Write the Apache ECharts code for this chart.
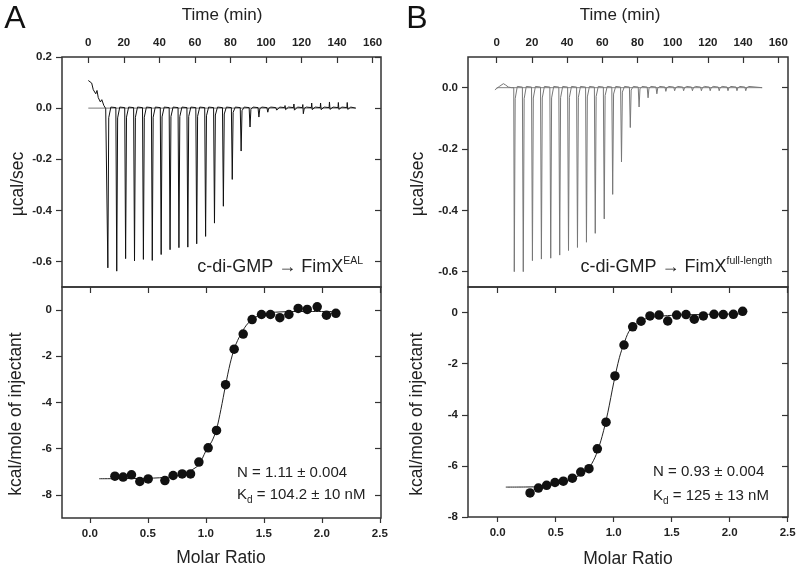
<!DOCTYPE html>
<html><head><meta charset="utf-8">
<script src="https://cdn.jsdelivr.net/npm/echarts@6/dist/echarts.min.js"></script>
<style>html,body{margin:0;padding:0;background:#fff}#c{width:800px;height:573px}</style>
</head><body><div id="c"></div>
<script>
// ---------- tick labels ----------
const timeTicks = [0, 20, 40, 60, 80, 100, 120, 140, 160];
const ratioTicks = [0, 0.5, 1.0, 1.5, 2.0, 2.5];
const powerTicksA = [-0.6, -0.4, -0.2, 0.0, 0.2];
const powerTicksB = [-0.6, -0.4, -0.2, 0.0];
const heatTicksA = [-8, -6, -4, -2, 0];
const heatTicksB = [-8, -6, -4, -2, 0];

// ---------- panel A raw thermogram ----------
const startA = [[0, 0.108], [1.9, 0.098], [2.8, 0.072], [4.2, 0.056], [4.9, 0.069], [5.6, 0.041], [6.8, 0.024], [7.6, 0.033], [8.7, 0.011], [9.8, -0.002]];
const injTimeA = [10.5, 15.5, 20.5, 25.5, 30.5, 35.5, 40.5, 45.5, 50.5, 55.5, 60.5, 65.5, 70.5, 75.5, 80.5, 85.5, 90.5, 95.5, 100.5, 105.5, 110.5, 115.5, 120.5, 125.5, 130.5, 135.5, 140.5, 145.5];
const injDownA = [-0.625, -0.638, -0.589, -0.598, -0.592, -0.596, -0.573, -0.554, -0.546, -0.544, -0.531, -0.502, -0.450, -0.384, -0.279, -0.168, -0.074, -0.035, -0.016, -0.008, -0.006, -0.008, -0.022, -0.006, -0.006, -0.005, -0.005, -0.005];
const injUpA = [0, 0, 0, 0, 0, 0, 0, 0, 0, 0, 0, 0, 0, 0, 0, 0, 0, 0, 0, 0.008, 0.010, 0.016, 0.014, 0.020, 0.020, 0.024, 0.022, 0.022];
const endA = 150.5;

// ---------- panel B raw thermogram ----------
const startB = [[-1.0, -0.007], [1.5, 0.004], [3.8, 0.013], [5.0, 0.009], [6.6, 0.002], [8.5, 0.0]];
const injTimeB = [9.5, 14.6, 19.8, 24.9, 30.2, 35.3, 40.3, 45.4, 50.5, 55.5, 60.6, 65.4, 70.4, 75.4, 80.4, 85.5, 90.5, 95.6, 100.6, 105.7, 110.7, 115.8, 120.8, 125.9, 130.9, 136.0, 141.0];
const injDownB = [-0.600, -0.600, -0.564, -0.559, -0.556, -0.546, -0.531, -0.521, -0.504, -0.475, -0.428, -0.348, -0.242, -0.130, -0.063, -0.033, -0.020, -0.012, -0.010, -0.010, -0.010, -0.010, -0.010, -0.010, -0.010, -0.010, -0.010];
const injUpB = [0, 0, 0, 0, 0, 0, 0, 0, 0, 0, 0, 0, 0, 0, 0, 0, 0, 0.008, 0.008, 0.008, 0.008, 0.008, 0.008, 0.008, 0.008, 0.008, 0.008];
const endB = 150.8;

// ---------- integrated heats ----------
const ratioA = [0.216, 0.287, 0.359, 0.431, 0.503, 0.647, 0.718, 0.796, 0.868, 0.940, 1.020, 1.092, 1.170, 1.244, 1.322, 1.399, 1.480, 1.557, 1.638, 1.716, 1.796, 1.874, 1.960, 2.040, 2.121];
const heatA = [-7.19, -7.23, -7.13, -7.42, -7.31, -7.38, -7.16, -7.09, -7.09, -6.58, -5.96, -5.21, -3.23, -1.69, -1.04, -0.41, -0.19, -0.19, -0.33, -0.19, 0.07, 0.03, 0.14, -0.22, -0.14];
const fitRatioA = [0.08, 0.5, 0.7, 0.8, 0.87, 0.94, 0.97, 1.0, 1.05, 1.09, 1.13, 1.17, 1.21, 1.25, 1.3, 1.35, 1.4, 1.45, 1.5, 1.6, 1.8, 2.12];
const fitHeatA = [-7.30, -7.28, -7.22, -7.12, -6.95, -6.70, -6.42, -6.10, -5.70, -5.20, -4.30, -3.25, -2.30, -1.60, -1.05, -0.65, -0.40, -0.25, -0.16, -0.09, -0.06, -0.06];

const ratioB = [0.279, 0.351, 0.422, 0.494, 0.566, 0.644, 0.716, 0.787, 0.859, 0.934, 1.011, 1.089, 1.164, 1.236, 1.313, 1.391, 1.466, 1.543, 1.624, 1.695, 1.773, 1.865, 1.945, 2.032, 2.112];
const heatB = [-7.06, -6.87, -6.76, -6.65, -6.60, -6.48, -6.24, -6.11, -5.33, -4.29, -2.48, -1.27, -0.56, -0.34, -0.13, -0.10, -0.33, -0.10, -0.08, -0.26, -0.13, -0.07, -0.08, -0.07, 0.05];
const fitRatioB = [0.07, 0.31, 0.5, 0.6, 0.7, 0.76, 0.8, 0.85, 0.9, 0.95, 1.0, 1.05, 1.09, 1.13, 1.18, 1.25, 1.35, 1.5, 1.8, 2.11];
const fitHeatB = [-6.83, -6.82, -6.72, -6.60, -6.38, -6.20, -6.00, -5.55, -4.85, -3.90, -2.75, -1.75, -1.20, -0.75, -0.47, -0.28, -0.17, -0.11, -0.07, -0.05];

// ---------- build helpers ----------
function buildTrace(start, times, downs, ups, endT) {
  const pts = start.slice();
  for (let i = 0; i < times.length; i++) {
    const t = times[i];
    pts.push([t, 0.002], [t + 0.2, ups[i]], [t + 0.5, downs[i]], [t + 1.0, downs[i] * 0.06], [t + 2.2, 0.004]);
  }
  pts.push([endT, 0.0]);
  return pts;
}
const zip = (a, b) => a.map((v, i) => [v, b[i]]);

const FONT = 'Liberation Sans, Arial, Helvetica, sans-serif';
const C = '#222';
const tickLabel = { fontFamily: FONT, fontWeight: 'bold', fontSize: 11.5, color: '#222' };

function xAx(grid, pos, min, max, ticks, showLabels, inside, fmt) {
  return {
    type: 'value', gridIndex: grid, position: pos, min: min, max: max,
    axisLine: { show: false, onZero: false },
    splitLine: { show: false },
    axisTick: { show: true, inside: inside, length: inside ? 6 : 5, customValues: ticks, lineStyle: { color: '#333', width: 1.2 } },
    axisLabel: Object.assign({ show: showLabels, customValues: ticks, margin: pos === 'top' ? 8 : 10, formatter: fmt }, tickLabel)
  };
}
function yAx(grid, pos, min, max, ticks, showLabels, inside, fmt) {
  return {
    type: 'value', gridIndex: grid, position: pos, min: min, max: max,
    axisLine: { show: false, onZero: false },
    splitLine: { show: false },
    axisTick: { show: true, inside: inside, length: 6, customValues: ticks, lineStyle: { color: '#333', width: 1.2 } },
    axisLabel: Object.assign({ show: showLabels, customValues: ticks, margin: 10, formatter: fmt }, tickLabel)
  };
}
const f1 = v => Number(v).toFixed(1);
const f0 = v => String(Math.round(v));

const gridStyle = { show: true, borderColor: '#333', borderWidth: 1.5, backgroundColor: 'transparent' };

const option = {
  animation: false,
  backgroundColor: '#fff',
  grid: [
    Object.assign({ left: 62, top: 57, width: 319, height: 230 }, gridStyle),
    Object.assign({ left: 62, top: 287, width: 319, height: 231 }, gridStyle),
    Object.assign({ left: 468, top: 57, width: 320, height: 230 }, gridStyle),
    Object.assign({ left: 468, top: 287, width: 320, height: 230 }, gridStyle)
  ],
  xAxis: [
    xAx(0, 'top', -14.8, 164.7, timeTicks, true, true, f0),
    xAx(1, 'bottom', -0.24, 2.51, ratioTicks, true, false, f1),
    xAx(1, 'top', -0.24, 2.51, ratioTicks, false, true, f1),
    xAx(2, 'top', -16.3, 165.5, timeTicks, true, true, f0),
    xAx(3, 'bottom', -0.256, 2.503, ratioTicks, true, false, f1),
    xAx(3, 'top', -0.256, 2.503, ratioTicks, false, true, f1)
  ],
  yAxis: [
    yAx(0, 'left', -0.7, 0.2, powerTicksA, true, false, f1),
    yAx(0, 'right', -0.7, 0.2, powerTicksA, false, true, f1),
    yAx(1, 'left', -9, 1, heatTicksA, true, false, f0),
    yAx(1, 'right', -9, 1, heatTicksA, false, true, f0),
    yAx(2, 'left', -0.65, 0.1, powerTicksB, true, false, f1),
    yAx(2, 'right', -0.65, 0.1, powerTicksB, false, true, f1),
    yAx(3, 'left', -8, 1, heatTicksB, true, false, f0),
    yAx(3, 'right', -8, 1, heatTicksB, false, true, f0)
  ],
  series: [
    { type: 'line', xAxisIndex: 0, yAxisIndex: 0, data: [[0, 0], [endA, 0]], showSymbol: false, lineStyle: { color: '#555', width: 0.8 }, z: 1 },
    { type: 'line', xAxisIndex: 0, yAxisIndex: 0, data: buildTrace(startA, injTimeA, injDownA, injUpA, endA), showSymbol: false, lineStyle: { color: '#111', width: 1 }, z: 2 },
    { type: 'line', xAxisIndex: 3, yAxisIndex: 4, data: [[0, 0], [endB, 0]], showSymbol: false, lineStyle: { color: '#666', width: 0.8 }, z: 1 },
    { type: 'line', xAxisIndex: 3, yAxisIndex: 4, data: buildTrace(startB, injTimeB, injDownB, injUpB, endB), showSymbol: false, lineStyle: { color: '#777', width: 1 }, z: 2 },
    { type: 'line', xAxisIndex: 1, yAxisIndex: 2, data: zip(fitRatioA, fitHeatA), smooth: 0.3, showSymbol: false, lineStyle: { color: '#222', width: 1 }, z: 2 },
    { type: 'scatter', xAxisIndex: 1, yAxisIndex: 2, data: zip(ratioA, heatA), symbolSize: 9.5, itemStyle: { color: '#111', opacity: 1 }, z: 3 },
    { type: 'line', xAxisIndex: 4, yAxisIndex: 6, data: zip(fitRatioB, fitHeatB), smooth: 0.3, showSymbol: false, lineStyle: { color: '#222', width: 1 }, z: 2 },
    { type: 'scatter', xAxisIndex: 4, yAxisIndex: 6, data: zip(ratioB, heatB), symbolSize: 9.5, itemStyle: { color: '#111', opacity: 1 }, z: 3 }
  ],
  graphic: [
    { type: 'text', x: 15, y: 19, style: { text: 'A', font: '32px ' + FONT, fill: '#111', textAlign: 'center', textVerticalAlign: 'middle' } },
    { type: 'text', x: 417, y: 19, style: { text: 'B', font: '32px ' + FONT, fill: '#111', textAlign: 'center', textVerticalAlign: 'middle' } },
    { type: 'text', x: 222, y: 15, style: { text: 'Time (min)', font: '17px ' + FONT, fill: C, textAlign: 'center', textVerticalAlign: 'middle' } },
    { type: 'text', x: 620, y: 15, style: { text: 'Time (min)', font: '17px ' + FONT, fill: C, textAlign: 'center', textVerticalAlign: 'middle' } },
    { type: 'text', x: 18, y: 184, rotation: Math.PI / 2, style: { text: 'µcal/sec', font: '17.5px ' + FONT, fill: C, textAlign: 'center', textVerticalAlign: 'middle' } },
    { type: 'text', x: 418, y: 184, rotation: Math.PI / 2, style: { text: 'µcal/sec', font: '17.5px ' + FONT, fill: C, textAlign: 'center', textVerticalAlign: 'middle' } },
    { type: 'text', x: 16, y: 414, rotation: Math.PI / 2, style: { text: 'kcal/mole of injectant', font: '17.5px ' + FONT, fill: C, textAlign: 'center', textVerticalAlign: 'middle' } },
    { type: 'text', x: 417, y: 414, rotation: Math.PI / 2, style: { text: 'kcal/mole of injectant', font: '17.5px ' + FONT, fill: C, textAlign: 'center', textVerticalAlign: 'middle' } },
    { type: 'text', x: 221, y: 558, style: { text: 'Molar Ratio', font: '17.5px ' + FONT, fill: C, textAlign: 'center', textVerticalAlign: 'middle' } },
    { type: 'text', x: 628, y: 559, style: { text: 'Molar Ratio', font: '17.5px ' + FONT, fill: C, textAlign: 'center', textVerticalAlign: 'middle' } },
    { type: 'text', x: 363, y: 267, style: { text: '{a|c-di-GMP → FimX}{s|EAL}', textAlign: 'right', textVerticalAlign: 'middle', rich: { a: { fontFamily: FONT, fontSize: 18, lineHeight: 22, fill: C, color: C }, s: { fontFamily: FONT, fontSize: 10.5, lineHeight: 22, verticalAlign: 'top', color: C, fill: C } } } },
    { type: 'text', x: 772, y: 267, style: { text: '{a|c-di-GMP → FimX}{s|full-length}', textAlign: 'right', textVerticalAlign: 'middle', rich: { a: { fontFamily: FONT, fontSize: 18, lineHeight: 22, fill: C, color: C }, s: { fontFamily: FONT, fontSize: 10.5, lineHeight: 22, verticalAlign: 'top', color: C, fill: C } } } },
    { type: 'text', x: 237, y: 473, style: { text: 'N = 1.11 ± 0.004', font: '15px ' + FONT, fill: C, textVerticalAlign: 'middle' } },
    { type: 'text', x: 237, y: 495, style: { text: '{a|K}{s|d}{a| = 104.2 ± 10 nM}', textVerticalAlign: 'middle', rich: { a: { fontFamily: FONT, fontSize: 15, lineHeight: 20, color: C, fill: C }, s: { fontFamily: FONT, fontSize: 10, lineHeight: 20, verticalAlign: 'bottom', color: C, fill: C } } } },
    { type: 'text', x: 653, y: 472, style: { text: 'N = 0.93 ± 0.004', font: '15px ' + FONT, fill: C, textVerticalAlign: 'middle' } },
    { type: 'text', x: 653, y: 496, style: { text: '{a|K}{s|d}{a| = 125 ± 13 nM}', textVerticalAlign: 'middle', rich: { a: { fontFamily: FONT, fontSize: 15, lineHeight: 20, color: C, fill: C }, s: { fontFamily: FONT, fontSize: 10, lineHeight: 20, verticalAlign: 'bottom', color: C, fill: C } } } }
  ]
};
echarts.init(document.getElementById('c'), null, { renderer: 'canvas' }).setOption(option);
</script>
</body></html>
